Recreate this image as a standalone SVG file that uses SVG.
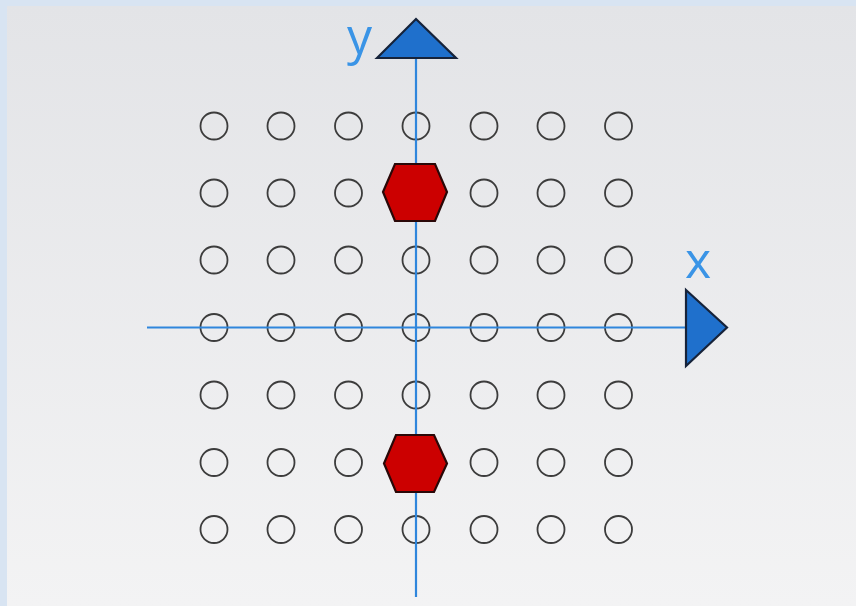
<svg xmlns="http://www.w3.org/2000/svg" width="856" height="606" viewBox="0 0 856 606">
<defs>
<linearGradient id="bg" x1="0" y1="0" x2="0" y2="1">
<stop offset="0" stop-color="#e3e4e7"/>
<stop offset="1" stop-color="#f3f3f4"/>
</linearGradient>
<style>
.pt{fill:none;stroke:#3c3c3c;stroke-width:1.8}
.axis{stroke:#2f86dc;stroke-width:2.2;fill:none}
.head{fill:#1f70cc;stroke:#16233a;stroke-width:2.2;stroke-linejoin:miter}
.hex{fill:#cc0000;stroke:#2a0808;stroke-width:2.2}
.lbl{font-family:"Open Sans","Liberation Sans",sans-serif;font-size:50px;fill:#3a94e6}
</style>
</defs>
<rect x="0" y="0" width="856" height="606" fill="#d8e4f2"/>
<rect x="7" y="6" width="849" height="600" fill="url(#bg)"/>
<g id="grid">
<g id="row1"><circle class="pt" cx="214" cy="126" r="13.5"/><circle class="pt" cx="281" cy="126" r="13.5"/><circle class="pt" cx="348.5" cy="126" r="13.5"/><circle class="pt" cx="416" cy="126" r="13.5"/><circle class="pt" cx="484" cy="126" r="13.5"/><circle class="pt" cx="551" cy="126" r="13.5"/><circle class="pt" cx="618.5" cy="126" r="13.5"/></g>
<g id="row2"><circle class="pt" cx="214" cy="193" r="13.5"/><circle class="pt" cx="281" cy="193" r="13.5"/><circle class="pt" cx="348.5" cy="193" r="13.5"/><circle class="pt" cx="484" cy="193" r="13.5"/><circle class="pt" cx="551" cy="193" r="13.5"/><circle class="pt" cx="618.5" cy="193" r="13.5"/></g>
<g id="row3"><circle class="pt" cx="214" cy="260" r="13.5"/><circle class="pt" cx="281" cy="260" r="13.5"/><circle class="pt" cx="348.5" cy="260" r="13.5"/><circle class="pt" cx="416" cy="260" r="13.5"/><circle class="pt" cx="484" cy="260" r="13.5"/><circle class="pt" cx="551" cy="260" r="13.5"/><circle class="pt" cx="618.5" cy="260" r="13.5"/></g>
<g id="row4"><circle class="pt" cx="214" cy="327.5" r="13.5"/><circle class="pt" cx="281" cy="327.5" r="13.5"/><circle class="pt" cx="348.5" cy="327.5" r="13.5"/><circle class="pt" cx="416" cy="327.5" r="13.5"/><circle class="pt" cx="484" cy="327.5" r="13.5"/><circle class="pt" cx="551" cy="327.5" r="13.5"/><circle class="pt" cx="618.5" cy="327.5" r="13.5"/></g>
<g id="row5"><circle class="pt" cx="214" cy="395" r="13.5"/><circle class="pt" cx="281" cy="395" r="13.5"/><circle class="pt" cx="348.5" cy="395" r="13.5"/><circle class="pt" cx="416" cy="395" r="13.5"/><circle class="pt" cx="484" cy="395" r="13.5"/><circle class="pt" cx="551" cy="395" r="13.5"/><circle class="pt" cx="618.5" cy="395" r="13.5"/></g>
<g id="row6"><circle class="pt" cx="214" cy="462.5" r="13.5"/><circle class="pt" cx="281" cy="462.5" r="13.5"/><circle class="pt" cx="348.5" cy="462.5" r="13.5"/><circle class="pt" cx="484" cy="462.5" r="13.5"/><circle class="pt" cx="551" cy="462.5" r="13.5"/><circle class="pt" cx="618.5" cy="462.5" r="13.5"/></g>
<g id="row7"><circle class="pt" cx="214" cy="529.5" r="13.5"/><circle class="pt" cx="281" cy="529.5" r="13.5"/><circle class="pt" cx="348.5" cy="529.5" r="13.5"/><circle class="pt" cx="416" cy="529.5" r="13.5"/><circle class="pt" cx="484" cy="529.5" r="13.5"/><circle class="pt" cx="551" cy="529.5" r="13.5"/><circle class="pt" cx="618.5" cy="529.5" r="13.5"/></g>
</g>
<g id="axes">
<line class="axis" x1="416" y1="58" x2="416" y2="597"/>
<line class="axis" x1="147" y1="327.5" x2="686" y2="327.5"/>
</g>
<g id="y-arrow"><polygon class="head" points="377,58 416,19 456,58"/></g>
<g id="x-arrow"><polygon class="head" points="686,290 727,327.5 686,366"/></g>
<g id="hex-top"><polygon class="hex" points="383,192 395,164 435,164 447,192 435,221 395,221"/></g>
<g id="hex-bottom"><polygon class="hex" points="384,463.5 396,435 434,435 447,463.5 434,492 396,492"/></g>
<text class="lbl" x="347" y="54">y</text>
<text class="lbl" x="685" y="278">x</text>
</svg>
